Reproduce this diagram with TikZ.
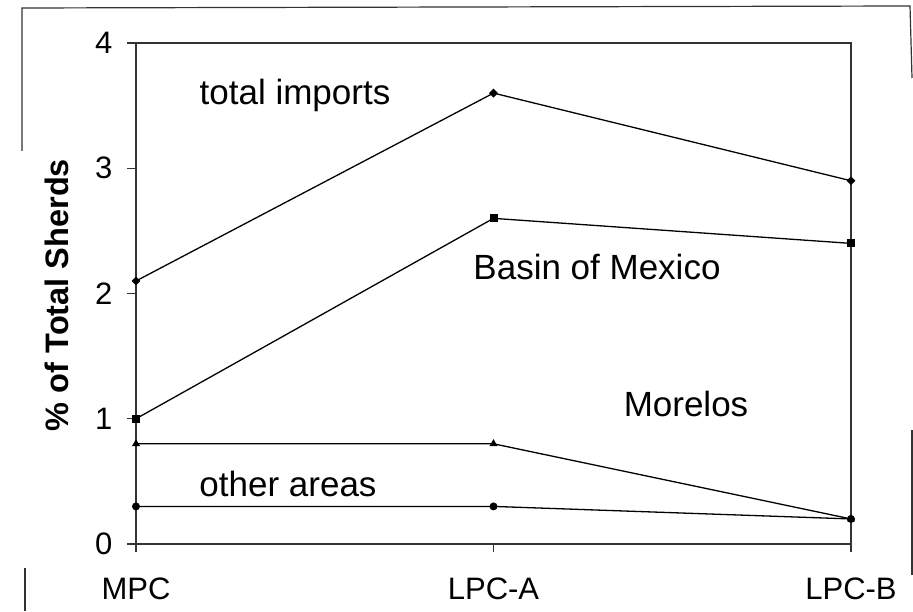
\documentclass[tikz,border=0pt]{standalone}
\usepackage{fontspec}
\setmainfont{Liberation Sans}
\usetikzlibrary{shapes.geometric}

\tikzset{
    diam/.style={diamond, fill=black, inner sep=0pt, minimum size=9pt},
    sq/.style={rectangle, fill=black, inner sep=0pt, minimum size=8pt},
    tri/.style={isosceles triangle, isosceles triangle apex angle=60, shape border rotate=90, fill=black, inner sep=0pt, minimum size=7pt},
    dot/.style={circle, fill=black, inner sep=0pt, minimum size=8pt},
    series/.style={black, line width=1.3pt},
    frm/.style={black!80, line width=1.2pt},
    lbl/.style={font=\fontsize{35}{40}\selectfont, anchor=base},
    ticklbl/.style={font=\fontsize{31}{36}\selectfont}
}

\begin{document}
\begin{tikzpicture}[x=1pt, y=1pt]
    \useasboundingbox (0,0) rectangle (913,611);

    % outer frame bits
    \draw [frm] (22,460) -- (22,603) -- (910,605) -- (912,533);
    \draw [frm] (25,43) -- (25,0);
    \draw [frm] (912,181) -- (912,36);

    % axis label
    \node [rotate=90, font=\bfseries\fontsize{32.5}{38}\selectfont] (ylab) at (57,316) {\% of Total Sherds};

    \begin{scope}[shift={(136,67)}, x=357.5pt, y=125.25pt]
        \draw [frm] (0,0) -- (0,4) -- (2,4) -- (2,0) -- cycle;
        \foreach \y in {0,...,4} {
            \draw [frm] (0,\y) -- ++(-9pt,0);
            \node [ticklbl, anchor=east] (yt\y) at ([xshift=-20pt]0,\y) {\y};
        }
        \foreach \x/\cat in {0/MPC, 1/LPC-A, 2/LPC-B} {
            \draw [frm] (\x,0) -- ++(0,-8pt);
            \node [ticklbl, anchor=base] (xt\x) at ([yshift=-55pt]\x,0) {\cat};
        }

        % total imports
        \node [diam] (ti0) at (0,2.1) {};
        \node [diam] (ti1) at (1,3.6) {};
        \node [diam] (ti2) at (2,2.9) {};
        \draw [series] (ti0.center) -- (ti1.center) -- (ti2.center);

        % Basin of Mexico
        \node [sq] (bm0) at (0,1.0) {};
        \node [sq] (bm1) at (1,2.6) {};
        \node [sq] (bm2) at (2,2.4) {};
        \draw [series] (bm0.center) -- (bm1.center) -- (bm2.center);

        % Morelos
        \node [tri] (mo0) at (0,0.8) {};
        \node [tri] (mo1) at (1,0.8) {};
        \node [tri] (mo2) at (2,0.2) {};
        \draw [series] (mo0.center) -- (mo1.center) -- (mo2.center);

        % other areas
        \node [dot] (oa0) at (0,0.3) {};
        \node [dot] (oa1) at (1,0.3) {};
        \node [dot] (oa2) at (2,0.2) {};
        \draw [series] (oa0.center) -- (oa1.center) -- (oa2.center);
    \end{scope}

    \node [lbl] (tilab) at (295,506) {total imports};
    \node [lbl] (bmlab) at (597,331) {Basin of Mexico};
    \node [lbl] (molab) at (686,194) {Morelos};
    \node [lbl] (oalab) at (288,115) {other areas};
\end{tikzpicture}
\end{document}
